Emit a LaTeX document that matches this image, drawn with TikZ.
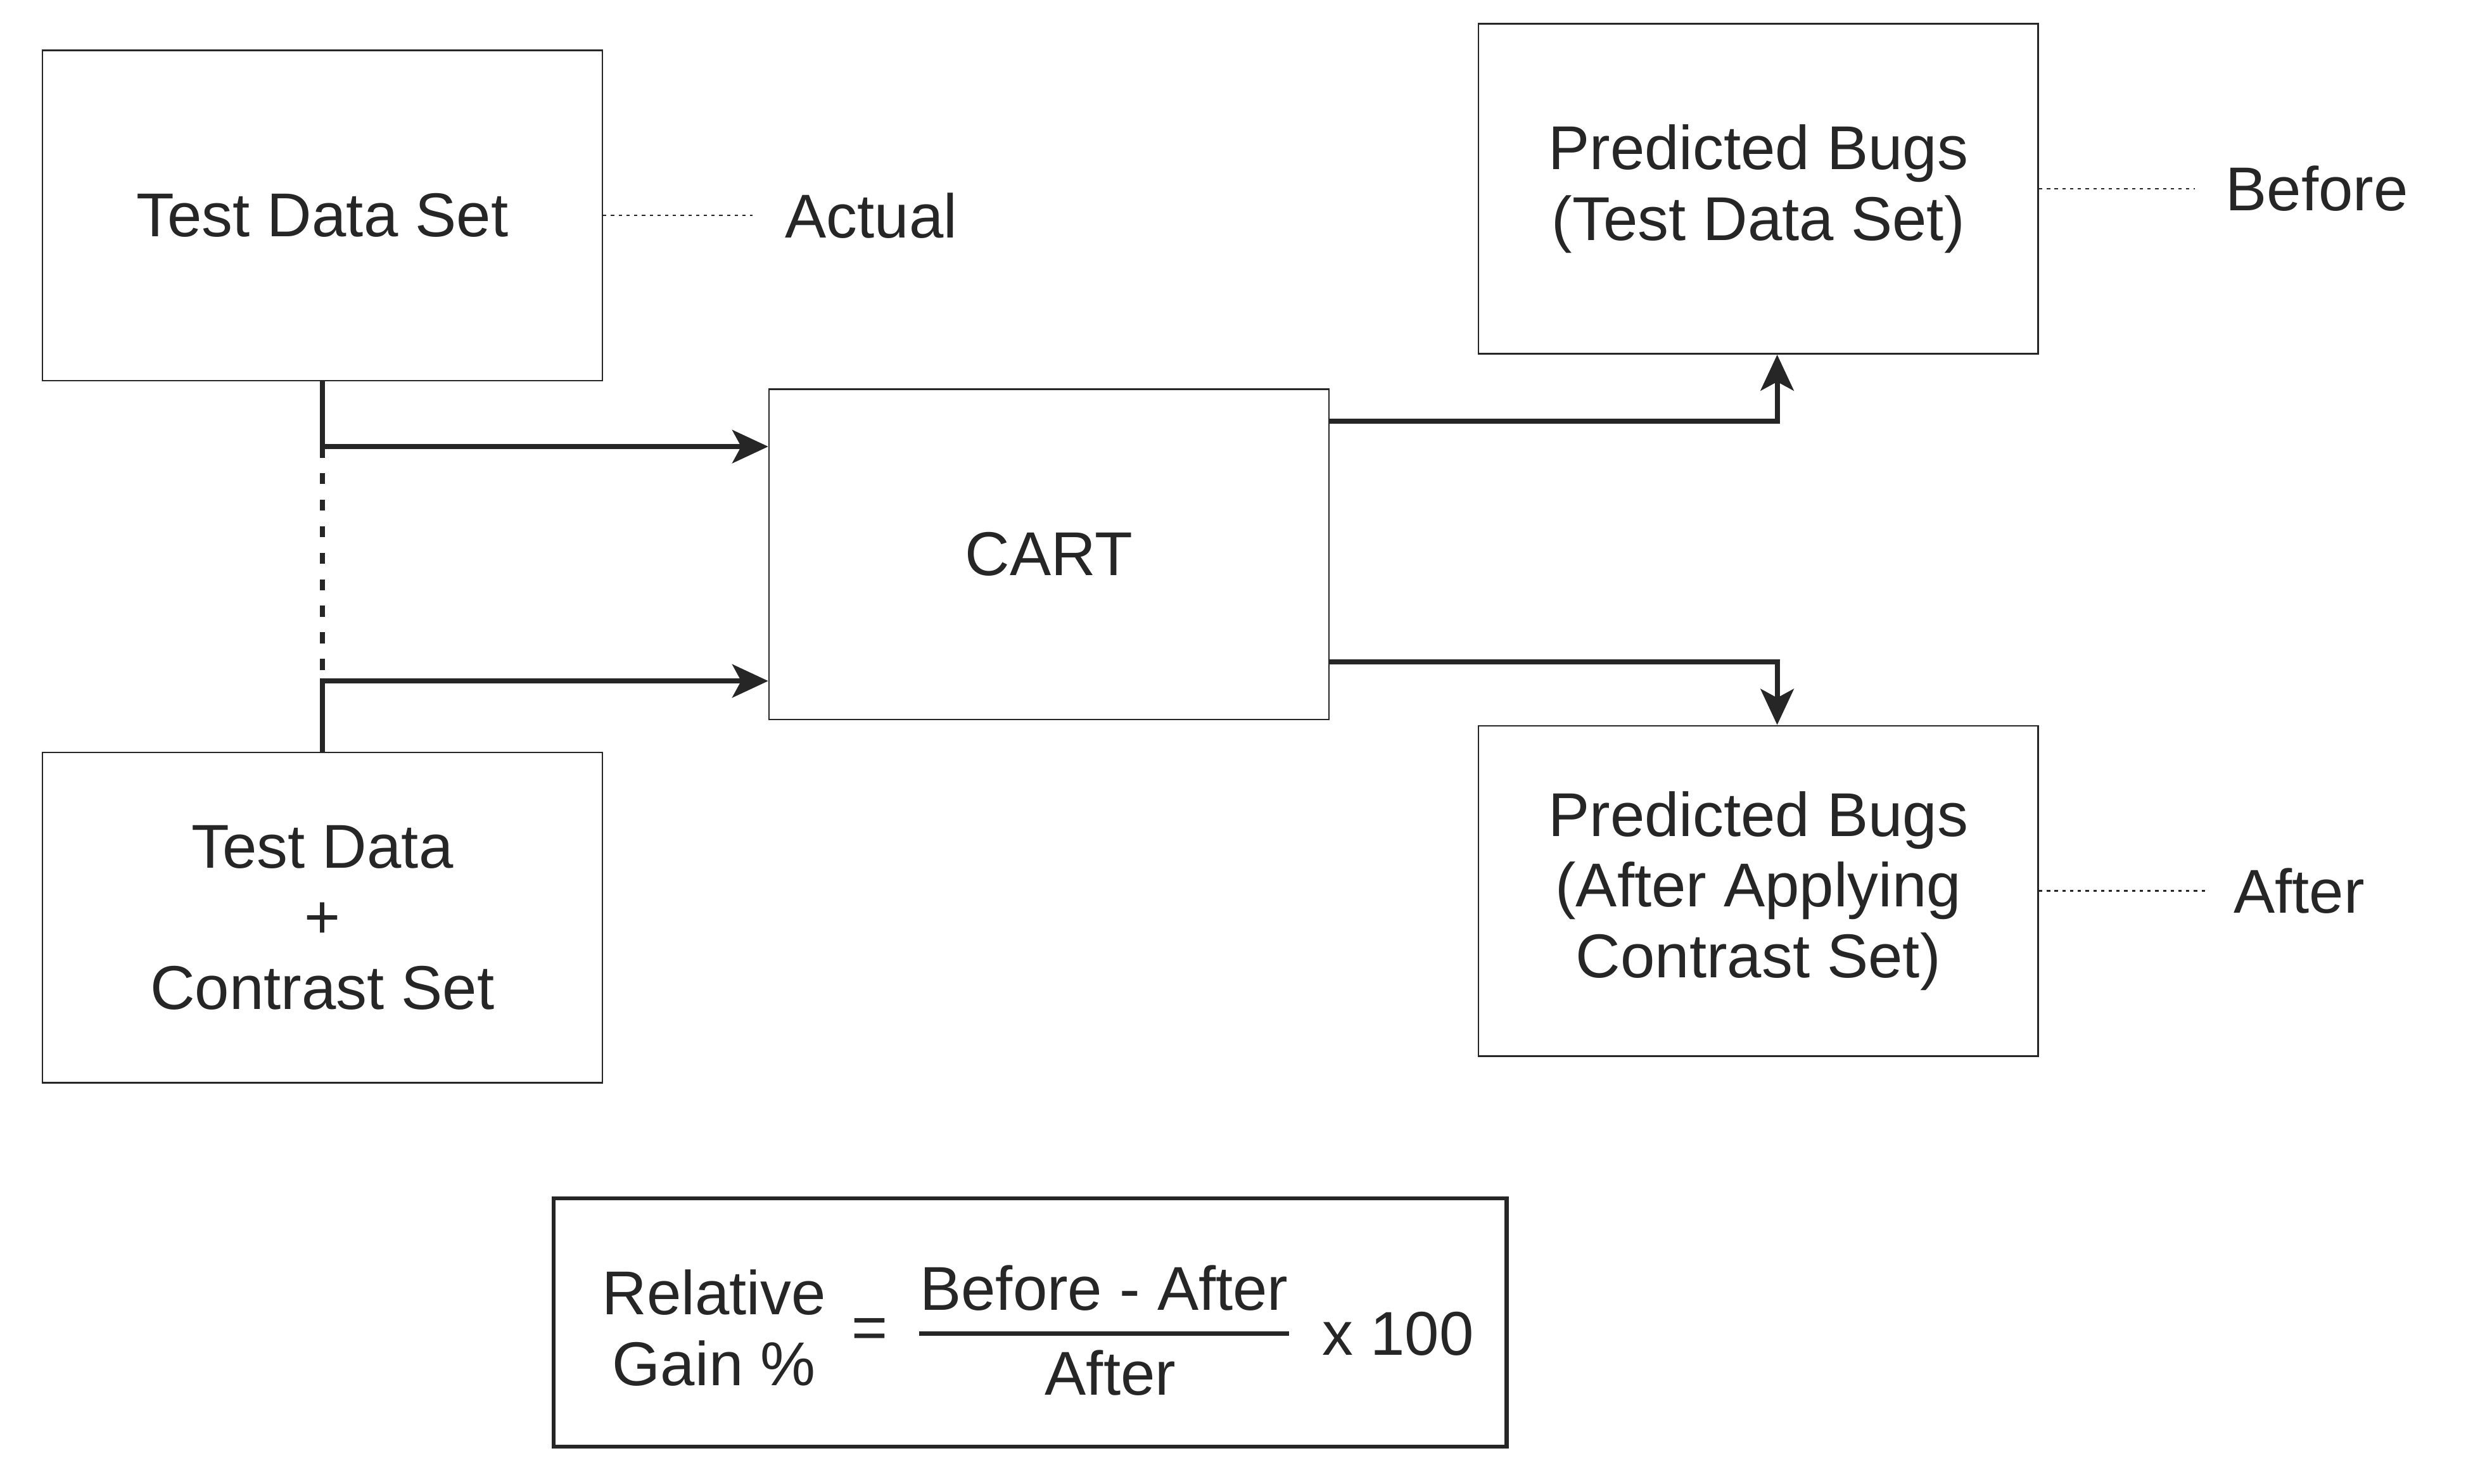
\documentclass[tikz,border=0pt]{standalone}
\usepackage{fontspec}
\setmainfont{Liberation Sans}
\usetikzlibrary{calc,positioning,arrows.meta}
\definecolor{ink}{HTML}{262626}

\begin{document}
\begin{tikzpicture}[
	font=\fontsize{11.2}{12.8}\selectfont, color=ink,
	box/.style={draw, line width=0.3pt, minimum width=3.56cm, minimum height=2.1cm, align=center, inner sep=0pt},
	flow/.style={-{Stealth[length=6.5pt,width=6pt,inset=1.6pt]}, line width=0.9pt},
	leader/.style={line width=0.3pt, dash pattern=on 0.6pt off 0.8pt},
	tag/.style={inner sep=0pt}]
	\useasboundingbox (0,0) rectangle (15.68,-9.436);
	\node[box] at (2.05,-1.37) (tds) {Test Data Set};
	\node[box] at (2.05,-5.835) (tdc) {Test Data\\+\\Contrast Set};
	\node[box] at (6.67,-3.525) (cart) {CART};
	\node[box] at (11.18,-1.20) (before) {Predicted Bugs\\(Test Data Set)};
	\node[box] at (11.18,-5.665) (after) {Predicted Bugs\\(After Applying\\Contrast Set)};
	% labels on the right
	\node[tag, right=1.15cm of tds] (actualtag) {Actual};
	\node[tag, right=1.18cm of before] (beforetag) {Before};
	\node[tag, right=1.23cm of after] (aftertag) {After};
	\draw[leader] (tds.east) -- ([xshift=-0.2cm]actualtag.west);
	\draw[leader] (before.east) -- ([xshift=-0.19cm]beforetag.west);
	\draw[leader] (after.east) -- ([xshift=-0.17cm]aftertag.west);
	% inputs to CART
	\coordinate (inA) at ([yshift=-0.37cm]cart.north west);
	\coordinate (inB) at ([yshift=0.25cm]cart.south west);
	\draw[flow] (tds.south) |- (inA);
	\draw[flow] (tdc.north) |- (inB);
	\draw[line width=0.85pt, dash pattern=on 2pt off 2.8pt] (tds.south |- inA) -- (tdc.north |- inB);
	% outputs of CART
	\coordinate (outA) at ([yshift=-0.21cm]cart.north east);
	\coordinate (outB) at ([yshift=0.37cm]cart.south east);
	\draw[flow] (outA) -| ([xshift=0.12cm]before.south);
	\draw[flow] (outB) -| ([xshift=0.12cm]after.north);
	% relative gain
	\node[draw, line width=0.7pt, minimum width=6.06cm, minimum height=1.58cm] at (6.55,-8.41) (gain) {};
	\node[align=center, inner sep=0pt] at (4.54,-8.445) (rel) {Relative\\Gain \%};
	\node[inner sep=0pt] at (5.53,-8.48) (eq) {=};
	\node[inner sep=0pt] at (7.02,-8.19) (num) {Before - After};
	\node[inner sep=0pt] at (7.06,-8.73) (den) {After};
	\node[inner sep=0pt] at (8.89,-8.48) (times) {x 100};
	\draw[line width=0.7pt] (num.west |- eq.center) -- (num.east |- eq.center);
\end{tikzpicture}
\end{document}
